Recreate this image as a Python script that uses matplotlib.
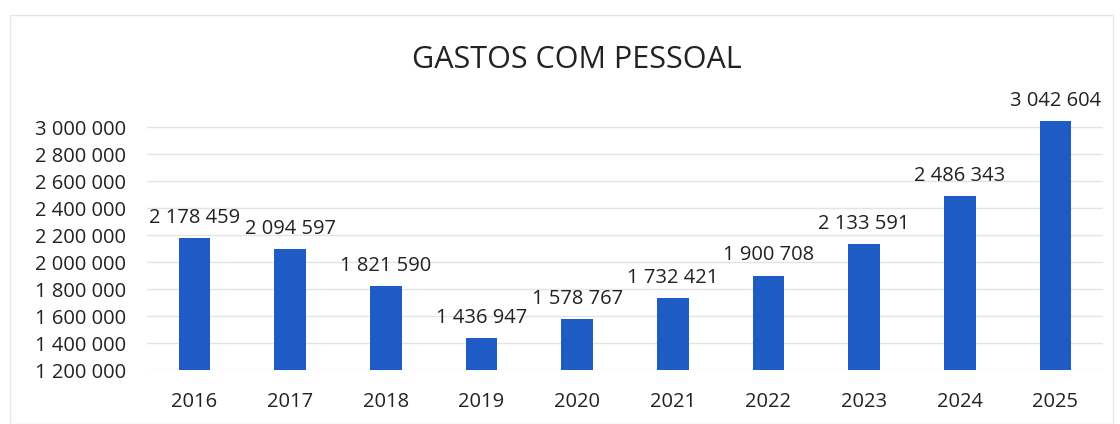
import matplotlib
matplotlib.use("Agg")
import matplotlib.pyplot as plt
from matplotlib.patches import Rectangle

years = ["2016", "2017", "2018", "2019", "2020", "2021", "2022", "2023", "2024", "2025"]
values = [2178459, 2094597, 1821590, 1436947, 1578767, 1732421, 1900708, 2133591, 2486343, 3042604]
yticks = [1200000, 1400000, 1600000, 1800000, 2000000, 2200000, 2400000, 2600000, 2800000, 3000000]

def fmt(v):
    return f"{v:,}".replace(",", " ")

plt.rcParams['font.family'] = ['Open Sans', 'DejaVu Sans']

fig = plt.figure(figsize=(11.2, 4.24), dpi=100)
ax = fig.add_axes([0.131, 0.127, 0.854, 0.605])

x = range(len(years))
ax.bar(x, values, width=0.33, color="#1F5BC4", zorder=3)
for i, v in zip(x, values):
    ax.text(i, v + 75000, fmt(v), ha="center", va="bottom", fontsize=14.5, color="#222222", clip_on=False)

ax.set_xlim(-0.5, len(years) - 0.5)
ax.set_ylim(1200000, 3100000)
ax.set_yticks(yticks)
ax.set_yticklabels([fmt(t) for t in yticks], fontsize=14.5, color="#222222")
ax.set_xticks(list(x))
ax.set_xticklabels(years, fontsize=14.5, color="#222222")
ax.tick_params(axis="x", length=0, pad=16)
ax.tick_params(axis="y", length=0, pad=15)
ax.grid(axis="y", color="#e4e4e4", linewidth=1, zorder=0)
for s in ax.spines.values():
    s.set_visible(False)

fig.text(0.515, 0.858, "GASTOS COM PESSOAL", ha="center", va="center", fontsize=22, color="#222222")
fig.patches.append(Rectangle((0.009, 0.0), 0.985, 0.965, transform=fig.transFigure,
                             fill=False, edgecolor="#e6e6e6", linewidth=1))

fig.savefig("out.png", dpi=100)
